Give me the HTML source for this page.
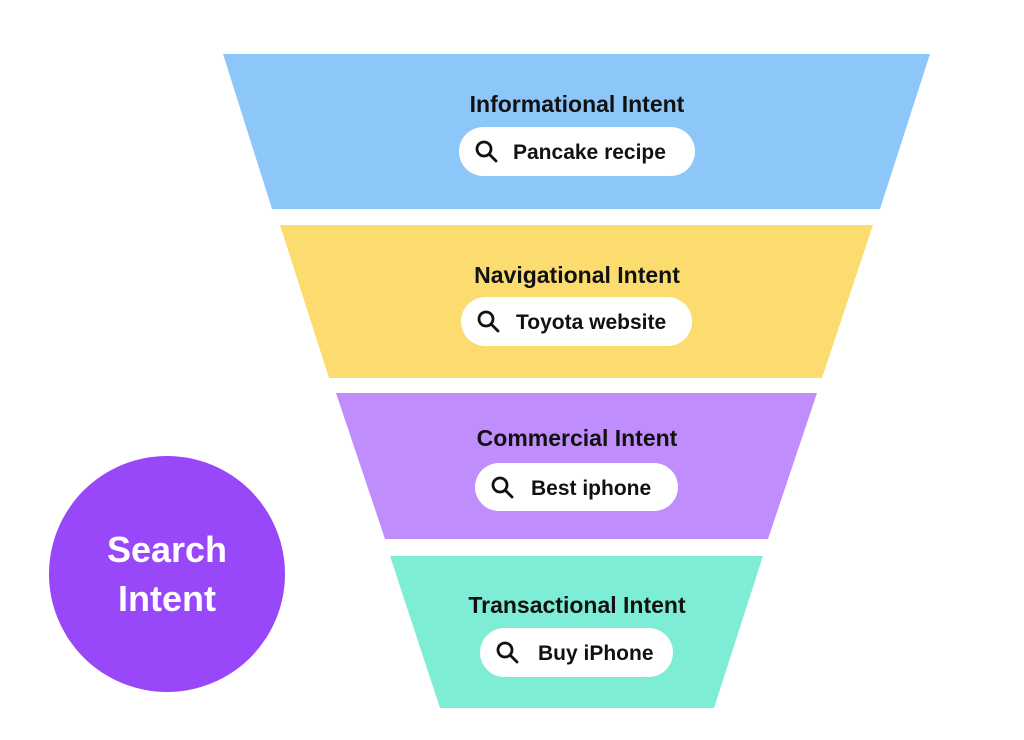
<!DOCTYPE html>
<html><head><meta charset="utf-8"><style>
html,body{margin:0;padding:0;background:#fff;}
svg{display:block;}
text{font-family:"Liberation Sans",sans-serif;font-weight:bold;}
</style></head><body>
<svg width="1024" height="740" viewBox="0 0 1024 740">
<rect width="1024" height="740" fill="#fff"/>
<polygon points="223,54 930,54 880,209 272,209" fill="#8dc7fa"/>
<polygon points="280,225 873,225 822,378 329,378" fill="#fcdc6e"/>
<polygon points="336,393 817,393 768,539 385,539" fill="#c08dfc"/>
<polygon points="390,556 763,556 714,708 440,708" fill="#7eedd5"/>
<circle cx="167" cy="574" r="118" fill="#9847f9"/>
<text x="167" y="562" font-size="36" fill="#fff" text-anchor="middle">Search</text>
<text x="167" y="611" font-size="36" fill="#fff" text-anchor="middle">Intent</text>
<g fill="#111" font-size="23" text-anchor="middle">
<text x="577" y="112">Informational Intent</text>
<text x="577" y="283">Navigational Intent</text>
<text x="577" y="446">Commercial Intent</text>
<text x="577" y="613">Transactional Intent</text>
</g>
<g fill="#fff">
<rect x="459" y="127" width="236" height="49" rx="24.5"/>
<rect x="461" y="297" width="231" height="49" rx="24.5"/>
<rect x="475" y="463" width="203" height="48" rx="24"/>
<rect x="480" y="628" width="193" height="49" rx="24.5"/>
</g>
<g fill="none" stroke="#111" stroke-width="2.8" stroke-linecap="round">
<circle cx="484" cy="149" r="7"/><line x1="489" y1="154" x2="496" y2="161"/>
<circle cx="486" cy="319" r="7"/><line x1="491" y1="324" x2="498" y2="331"/>
<circle cx="500" cy="485" r="7"/><line x1="505" y1="490" x2="512" y2="497"/>
<circle cx="505" cy="650" r="7"/><line x1="510" y1="655" x2="517" y2="662"/>
</g>
<g fill="#111" font-size="21">
<text x="513" y="159">Pancake recipe</text>
<text x="516" y="329">Toyota website</text>
<text x="531" y="495">Best iphone</text>
<text x="538" y="660">Buy iPhone</text>
</g>
</svg>
</body></html>
